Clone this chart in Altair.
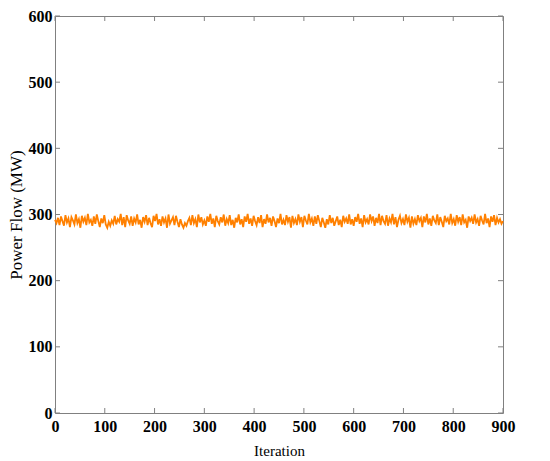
import altair as alt
import pandas as pd

step = 3
flow = [
    292,287,295,284,297,290,283,299,288,294,281,296,291,285,300,287,293,280,298,289,
    295,284,301,288,292,283,297,286,300,290,281,294,287,299,285,280,289,283,291,286,
    298,285,293,289,301,284,296,281,299,291,286,297,283,294,288,300,285,292,280,296,
    289,299,284,295,287,281,298,290,301,285,293,283,297,288,294,280,300,286,291,296,
    284,298,289,281,293,285,280,287,283,290,295,284,299,287,293,281,300,288,296,285,
    291,283,297,289,301,286,294,281,298,290,285,296,288,300,283,293,287,299,284,292,
    280,295,288,300,285,293,281,297,289,301,286,294,283,298,290,284,296,287,299,281,
    293,286,300,288,295,283,297,290,281,294,287,301,285,292,284,299,289,296,280,298,
    287,293,284,300,289,296,281,298,291,285,301,288,294,283,297,286,299,290,281,295,
    288,280,293,285,299,287,295,283,290,297,284,292,281,298,289,294,286,300,285,293,
    283,296,289,301,286,294,281,299,288,293,285,300,290,297,283,295,287,301,284,298,
    290,286,299,283,294,288,301,285,296,281,292,298,287,293,284,300,289,295,280,297,
    286,293,284,299,290,295,281,297,288,301,285,294,283,298,291,287,300,284,296,289,
    281,298,290,294,285,301,287,293,283,299,289,296,284,300,288,292,280,297,290,295,
    286,300,288,293,283,298,291,285,301,287,294,281,297,289,299,284,295,288,293,286,
    290,
]
iterations = [i * step for i in range(len(flow))]
x_ticks = [0, 100, 200, 300, 400, 500, 600, 700, 800, 900]
y_ticks = [0, 100, 200, 300, 400, 500, 600]

W, H = 448, 397
df = pd.DataFrame({"it": iterations, "flow": flow})
xt = pd.DataFrame({"it": x_ticks})
yt = pd.DataFrame({"flow": y_ticks})

xs = alt.Scale(domain=[0, 900], nice=False, zero=False)
ys = alt.Scale(domain=[0, 600], nice=False)

FONT = "Liberation Serif"
x_axis = alt.Axis(values=x_ticks, format="d", ticks=False, tickSize=0, domain=False, grid=False,
                  labelFont=FONT, labelFontWeight="bold", labelFontSize=16,
                  labelColor="black", labelPadding=5, labelFlush=False,
                  titleFont=FONT, titleFontWeight="normal", titleFontSize=15,
                  titleColor="black", titlePadding=9)
y_axis = alt.Axis(values=y_ticks, format="d", ticks=False, tickSize=0, domain=False, grid=False,
                  labelFont=FONT, labelFontWeight="bold", labelFontSize=16,
                  labelColor="black", labelPadding=3, labelFlush=False,
                  titleFont=FONT, titleFontWeight="normal", titleFontSize=17,
                  titleColor="black", titlePadding=3)

X = lambda: alt.X("it:Q", scale=xs, title="Iteration", axis=x_axis)
Y = lambda: alt.Y("flow:Q", scale=ys, title="Power Flow (MW)", axis=y_axis)

line = alt.Chart(df).mark_line(color="#ff8000", strokeWidth=1.8).encode(x=X(), y=Y())

tick_color = "#808080"
ty_left = alt.Chart(yt).mark_rule(color=tick_color, strokeWidth=1).encode(
    y=Y(), x=alt.value(0), x2=alt.value(5))
ty_right = alt.Chart(yt).mark_rule(color=tick_color, strokeWidth=1).encode(
    y=Y(), x=alt.value(W - 5), x2=alt.value(W))
tx_bottom = alt.Chart(xt).mark_rule(color=tick_color, strokeWidth=1).encode(
    x=X(), y=alt.value(H - 5), y2=alt.value(H))
tx_top = alt.Chart(xt).mark_rule(color=tick_color, strokeWidth=1).encode(
    x=X(), y=alt.value(0), y2=alt.value(5))

chart = alt.layer(line, ty_left, ty_right, tx_bottom, tx_top).properties(
    width=W, height=H,
    autosize=alt.AutoSizeParams(type="none"),
    padding={"left": 47, "top": 8, "right": 30, "bottom": 45},
    background="white",
).configure_view(stroke="#808080", strokeWidth=1)

chart.save("out.html", embed_options={"renderer": "svg", "actions": False})
